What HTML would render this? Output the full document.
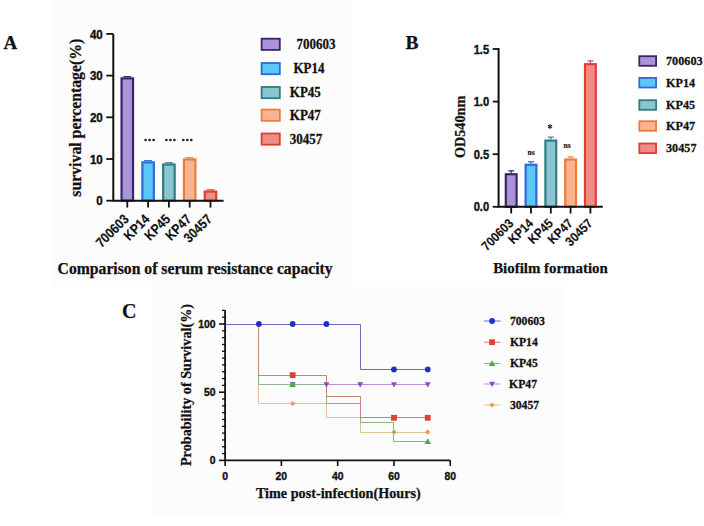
<!DOCTYPE html>
<html><head><meta charset="utf-8"><style>
html,body{margin:0;padding:0;background:#fff;width:704px;height:526px;overflow:hidden}
svg{display:block}
text{fill:#111}
</style></head><body>
<svg width="704" height="526" viewBox="0 0 704 526">
<rect x="0" y="0" width="704" height="526" fill="#ffffff"/>
<rect x="53" y="0" width="299" height="287" fill="#fcfcfc"/>

<rect x="152" y="287" width="414" height="230" fill="#fcfcfc"/>
<text x="3.4" y="48.5" font-family='"Liberation Serif", serif' font-weight="bold" font-size="19" text-anchor="start" stroke="#111" stroke-width="0.25" >A</text>
<rect x="121.55" y="78.37" width="11.50" height="122.33" fill="#ab93d9" stroke="#3a2568" stroke-width="2.2"/>
<line x1="123.30" y1="76.67" x2="131.30" y2="76.67" stroke="#3a2568" stroke-width="1.2"/>
<rect x="142.35" y="162.39" width="11.50" height="38.31" fill="#5cc6f6" stroke="#2f6ad6" stroke-width="2.2"/>
<line x1="144.10" y1="160.69" x2="152.10" y2="160.69" stroke="#2f6ad6" stroke-width="1.2"/>
<rect x="163.15" y="164.48" width="11.50" height="36.22" fill="#8ac6cf" stroke="#347a85" stroke-width="2.2"/>
<line x1="164.90" y1="162.78" x2="172.90" y2="162.78" stroke="#347a85" stroke-width="1.2"/>
<rect x="183.95" y="159.47" width="11.50" height="41.23" fill="#f7b493" stroke="#ee7b3c" stroke-width="2.2"/>
<line x1="185.70" y1="157.77" x2="193.70" y2="157.77" stroke="#ee7b3c" stroke-width="1.2"/>
<rect x="204.75" y="191.58" width="11.50" height="9.12" fill="#f08c86" stroke="#e03e30" stroke-width="2.2"/>
<line x1="206.50" y1="189.88" x2="214.50" y2="189.88" stroke="#e03e30" stroke-width="1.2"/>
<path d="M113.3,34 V200.7 H223.6" fill="none" stroke="#111" stroke-width="2"/>
<line x1="106.3" y1="200.70" x2="113.3" y2="200.70" stroke="#111" stroke-width="1.8"/>
<text x="0" y="0" font-family='"Liberation Sans", sans-serif' font-weight="bold" font-size="11.6" text-anchor="end" stroke="#111" stroke-width="0.35" transform="translate(102.8 205.40) scale(1 1.16)">0</text>
<line x1="106.3" y1="159.00" x2="113.3" y2="159.00" stroke="#111" stroke-width="1.8"/>
<text x="0" y="0" font-family='"Liberation Sans", sans-serif' font-weight="bold" font-size="11.6" text-anchor="end" stroke="#111" stroke-width="0.35" transform="translate(102.8 163.70) scale(1 1.16)">10</text>
<line x1="106.3" y1="117.30" x2="113.3" y2="117.30" stroke="#111" stroke-width="1.8"/>
<text x="0" y="0" font-family='"Liberation Sans", sans-serif' font-weight="bold" font-size="11.6" text-anchor="end" stroke="#111" stroke-width="0.35" transform="translate(102.8 122.00) scale(1 1.16)">20</text>
<line x1="106.3" y1="75.60" x2="113.3" y2="75.60" stroke="#111" stroke-width="1.8"/>
<text x="0" y="0" font-family='"Liberation Sans", sans-serif' font-weight="bold" font-size="11.6" text-anchor="end" stroke="#111" stroke-width="0.35" transform="translate(102.8 80.30) scale(1 1.16)">30</text>
<line x1="106.3" y1="33.90" x2="113.3" y2="33.90" stroke="#111" stroke-width="1.8"/>
<text x="0" y="0" font-family='"Liberation Sans", sans-serif' font-weight="bold" font-size="11.6" text-anchor="end" stroke="#111" stroke-width="0.35" transform="translate(102.8 38.60) scale(1 1.16)">40</text>
<line x1="127.30" y1="200.7" x2="127.30" y2="207.6" stroke="#111" stroke-width="1.8"/>
<text x="0" y="0" font-family='"Liberation Sans", sans-serif' font-weight="bold" font-size="12.0" text-anchor="end" stroke="#111" stroke-width="0.15" transform="translate(129.70 220.0) rotate(-45) scale(1 1.15)">700603</text>
<line x1="148.10" y1="200.7" x2="148.10" y2="207.6" stroke="#111" stroke-width="1.8"/>
<text x="0" y="0" font-family='"Liberation Sans", sans-serif' font-weight="bold" font-size="12.0" text-anchor="end" stroke="#111" stroke-width="0.15" transform="translate(150.50 220.0) rotate(-45) scale(1 1.15)">KP14</text>
<line x1="168.90" y1="200.7" x2="168.90" y2="207.6" stroke="#111" stroke-width="1.8"/>
<text x="0" y="0" font-family='"Liberation Sans", sans-serif' font-weight="bold" font-size="12.0" text-anchor="end" stroke="#111" stroke-width="0.15" transform="translate(171.30 220.0) rotate(-45) scale(1 1.15)">KP45</text>
<line x1="189.70" y1="200.7" x2="189.70" y2="207.6" stroke="#111" stroke-width="1.8"/>
<text x="0" y="0" font-family='"Liberation Sans", sans-serif' font-weight="bold" font-size="12.0" text-anchor="end" stroke="#111" stroke-width="0.15" transform="translate(192.10 220.0) rotate(-45) scale(1 1.15)">KP47</text>
<line x1="210.50" y1="200.7" x2="210.50" y2="207.6" stroke="#111" stroke-width="1.8"/>
<text x="0" y="0" font-family='"Liberation Sans", sans-serif' font-weight="bold" font-size="12.0" text-anchor="end" stroke="#111" stroke-width="0.15" transform="translate(212.90 220.0) rotate(-45) scale(1 1.15)">30457</text>
<circle cx="145.60" cy="140.0" r="1.35" fill="#222"/>
<circle cx="149.60" cy="140.0" r="1.35" fill="#222"/>
<circle cx="153.60" cy="140.0" r="1.35" fill="#222"/>
<circle cx="166.40" cy="140.0" r="1.35" fill="#222"/>
<circle cx="170.40" cy="140.0" r="1.35" fill="#222"/>
<circle cx="174.40" cy="140.0" r="1.35" fill="#222"/>
<circle cx="183.30" cy="140.0" r="1.35" fill="#222"/>
<circle cx="187.30" cy="140.0" r="1.35" fill="#222"/>
<circle cx="191.30" cy="140.0" r="1.35" fill="#222"/>
<text x="0" y="0" font-family='"Liberation Serif", serif' font-weight="bold" font-size="15.8" text-anchor="middle" stroke="#111" stroke-width="0.25" transform="translate(81 117.7) rotate(-90)">survival percentage(%)</text>
<text x="57.6" y="274.2" font-family='"Liberation Serif", serif' font-weight="bold" font-size="15.7" text-anchor="start" stroke="#111" stroke-width="0.25" >Comparison of serum resistance capacity</text>
<rect x="261.6" y="38.70" width="18.2" height="11.2" fill="#ab93d9" stroke="#3a2568" stroke-width="1.8"/>
<text x="0" y="0" font-family='"Liberation Serif", serif' font-weight="bold" font-size="13" text-anchor="start" stroke="#111" stroke-width="0.25" transform="translate(296.60 48.90) scale(1 1.06)">700603</text>
<rect x="261.6" y="63.00" width="18.2" height="11.2" fill="#5cc6f6" stroke="#2f6ad6" stroke-width="1.8"/>
<text x="0" y="0" font-family='"Liberation Serif", serif' font-weight="bold" font-size="13" text-anchor="start" stroke="#111" stroke-width="0.25" transform="translate(293.40 73.20) scale(1 1.06)">KP14</text>
<rect x="261.6" y="87.00" width="18.2" height="11.2" fill="#8ac6cf" stroke="#347a85" stroke-width="1.8"/>
<text x="0" y="0" font-family='"Liberation Serif", serif' font-weight="bold" font-size="13" text-anchor="start" stroke="#111" stroke-width="0.25" transform="translate(289.80 97.20) scale(1 1.06)">KP45</text>
<rect x="261.6" y="109.60" width="18.2" height="11.2" fill="#f7b493" stroke="#ee7b3c" stroke-width="1.8"/>
<text x="0" y="0" font-family='"Liberation Serif", serif' font-weight="bold" font-size="13" text-anchor="start" stroke="#111" stroke-width="0.25" transform="translate(289.80 119.80) scale(1 1.06)">KP47</text>
<rect x="261.6" y="133.50" width="18.2" height="11.2" fill="#f08c86" stroke="#e03e30" stroke-width="1.8"/>
<text x="0" y="0" font-family='"Liberation Serif", serif' font-weight="bold" font-size="13" text-anchor="start" stroke="#111" stroke-width="0.25" transform="translate(289.80 143.70) scale(1 1.06)">30457</text>
<text x="405.6" y="48.8" font-family='"Liberation Serif", serif' font-weight="bold" font-size="19.5" text-anchor="start" stroke="#111" stroke-width="0.25" >B</text>
<line x1="511.20" y1="173.14" x2="511.20" y2="170.82" stroke="#3a2568" stroke-width="1.2"/>
<line x1="508.20" y1="170.82" x2="514.20" y2="170.82" stroke="#3a2568" stroke-width="1.2"/>
<rect x="505.80" y="174.24" width="10.80" height="32.56" fill="#ab93d9" stroke="#3a2568" stroke-width="2.2"/>
<line x1="531.00" y1="163.67" x2="531.00" y2="161.77" stroke="#2f6ad6" stroke-width="1.2"/>
<line x1="528.00" y1="161.77" x2="534.00" y2="161.77" stroke="#2f6ad6" stroke-width="1.2"/>
<rect x="525.60" y="164.77" width="10.80" height="42.03" fill="#5cc6f6" stroke="#2f6ad6" stroke-width="2.2"/>
<line x1="550.80" y1="139.47" x2="550.80" y2="137.16" stroke="#347a85" stroke-width="1.2"/>
<line x1="547.80" y1="137.16" x2="553.80" y2="137.16" stroke="#347a85" stroke-width="1.2"/>
<rect x="545.40" y="140.57" width="10.80" height="66.23" fill="#8ac6cf" stroke="#347a85" stroke-width="2.2"/>
<line x1="570.60" y1="158.41" x2="570.60" y2="156.94" stroke="#ee7b3c" stroke-width="1.2"/>
<line x1="567.60" y1="156.94" x2="573.60" y2="156.94" stroke="#ee7b3c" stroke-width="1.2"/>
<rect x="565.20" y="159.51" width="10.80" height="47.29" fill="#f7b493" stroke="#ee7b3c" stroke-width="2.2"/>
<line x1="590.40" y1="63.10" x2="590.40" y2="60.99" stroke="#e03e30" stroke-width="1.2"/>
<line x1="587.40" y1="60.99" x2="593.40" y2="60.99" stroke="#e03e30" stroke-width="1.2"/>
<rect x="585.00" y="64.20" width="10.80" height="142.60" fill="#f08c86" stroke="#e03e30" stroke-width="2.2"/>
<path d="M498.6,48 V206.8 H602.8" fill="none" stroke="#111" stroke-width="2"/>
<line x1="492.7" y1="206.80" x2="498.6" y2="206.80" stroke="#111" stroke-width="1.8"/>
<text x="0" y="0" font-family='"Liberation Sans", sans-serif' font-weight="bold" font-size="11.2" text-anchor="end" stroke="#111" stroke-width="0.35" transform="translate(489.2 211.40) scale(1 1.08)">0.0</text>
<line x1="492.7" y1="154.20" x2="498.6" y2="154.20" stroke="#111" stroke-width="1.8"/>
<text x="0" y="0" font-family='"Liberation Sans", sans-serif' font-weight="bold" font-size="11.2" text-anchor="end" stroke="#111" stroke-width="0.35" transform="translate(489.2 158.80) scale(1 1.08)">0.5</text>
<line x1="492.7" y1="101.60" x2="498.6" y2="101.60" stroke="#111" stroke-width="1.8"/>
<text x="0" y="0" font-family='"Liberation Sans", sans-serif' font-weight="bold" font-size="11.2" text-anchor="end" stroke="#111" stroke-width="0.35" transform="translate(489.2 106.20) scale(1 1.08)">1.0</text>
<line x1="492.7" y1="49.00" x2="498.6" y2="49.00" stroke="#111" stroke-width="1.8"/>
<text x="0" y="0" font-family='"Liberation Sans", sans-serif' font-weight="bold" font-size="11.2" text-anchor="end" stroke="#111" stroke-width="0.35" transform="translate(489.2 53.60) scale(1 1.08)">1.5</text>
<line x1="511.20" y1="206.8" x2="511.20" y2="213.5" stroke="#111" stroke-width="1.8"/>
<text x="0" y="0" font-family='"Liberation Sans", sans-serif' font-weight="bold" font-size="11.6" text-anchor="end" stroke="#111" stroke-width="0.12" transform="translate(514.20 224.2) rotate(-45) scale(1 1.12)">700603</text>
<line x1="531.00" y1="206.8" x2="531.00" y2="213.5" stroke="#111" stroke-width="1.8"/>
<text x="0" y="0" font-family='"Liberation Sans", sans-serif' font-weight="bold" font-size="11.6" text-anchor="end" stroke="#111" stroke-width="0.12" transform="translate(534.00 224.2) rotate(-45) scale(1 1.12)">KP14</text>
<line x1="550.80" y1="206.8" x2="550.80" y2="213.5" stroke="#111" stroke-width="1.8"/>
<text x="0" y="0" font-family='"Liberation Sans", sans-serif' font-weight="bold" font-size="11.6" text-anchor="end" stroke="#111" stroke-width="0.12" transform="translate(553.80 224.2) rotate(-45) scale(1 1.12)">KP45</text>
<line x1="570.60" y1="206.8" x2="570.60" y2="213.5" stroke="#111" stroke-width="1.8"/>
<text x="0" y="0" font-family='"Liberation Sans", sans-serif' font-weight="bold" font-size="11.6" text-anchor="end" stroke="#111" stroke-width="0.12" transform="translate(573.60 224.2) rotate(-45) scale(1 1.12)">KP47</text>
<line x1="590.40" y1="206.8" x2="590.40" y2="213.5" stroke="#111" stroke-width="1.8"/>
<text x="0" y="0" font-family='"Liberation Sans", sans-serif' font-weight="bold" font-size="11.6" text-anchor="end" stroke="#111" stroke-width="0.12" transform="translate(593.40 224.2) rotate(-45) scale(1 1.12)">30457</text>
<text x="531.2" y="155.0" font-family='"Liberation Serif", serif' font-weight="bold" font-size="7.6" text-anchor="middle" stroke="#111" stroke-width="0.15" >ns</text>
<g stroke="#1a1a1a" stroke-width="1.1"><line x1="550" y1="124.3" x2="550" y2="128.9"/><line x1="547.9" y1="125.3" x2="552.1" y2="127.9"/><line x1="552.1" y1="125.3" x2="547.9" y2="127.9"/></g>
<text x="567.0" y="147.6" font-family='"Liberation Serif", serif' font-weight="bold" font-size="7.6" text-anchor="middle" stroke="#111" stroke-width="0.15" >ns</text>
<text x="0" y="0" font-family='"Liberation Serif", serif' font-weight="bold" font-size="14.2" text-anchor="middle" stroke="#111" stroke-width="0.25" transform="translate(465.3 126.9) rotate(-90)">OD540nm</text>
<text x="493.2" y="272.7" font-family='"Liberation Serif", serif' font-weight="bold" font-size="14.9" text-anchor="start" stroke="#111" stroke-width="0.25" >Biofilm formation</text>
<rect x="639.3" y="56.20" width="16.8" height="9.6" fill="#ab93d9" stroke="#3a2568" stroke-width="1.8"/>
<text x="0" y="0" font-family='"Liberation Serif", serif' font-weight="bold" font-size="12.2" text-anchor="start" stroke="#111" stroke-width="0.25" transform="translate(666.0 64.90) scale(1 1.1)">700603</text>
<rect x="639.3" y="77.90" width="16.8" height="9.6" fill="#5cc6f6" stroke="#2f6ad6" stroke-width="1.8"/>
<text x="0" y="0" font-family='"Liberation Serif", serif' font-weight="bold" font-size="12.2" text-anchor="start" stroke="#111" stroke-width="0.25" transform="translate(666.0 86.60) scale(1 1.1)">KP14</text>
<rect x="639.3" y="100.20" width="16.8" height="9.6" fill="#8ac6cf" stroke="#347a85" stroke-width="1.8"/>
<text x="0" y="0" font-family='"Liberation Serif", serif' font-weight="bold" font-size="12.2" text-anchor="start" stroke="#111" stroke-width="0.25" transform="translate(666.0 108.90) scale(1 1.1)">KP45</text>
<rect x="639.3" y="121.20" width="16.8" height="9.6" fill="#f7b493" stroke="#ee7b3c" stroke-width="1.8"/>
<text x="0" y="0" font-family='"Liberation Serif", serif' font-weight="bold" font-size="12.2" text-anchor="start" stroke="#111" stroke-width="0.25" transform="translate(666.0 129.90) scale(1 1.1)">KP47</text>
<rect x="639.3" y="143.50" width="16.8" height="9.6" fill="#f08c86" stroke="#e03e30" stroke-width="1.8"/>
<text x="0" y="0" font-family='"Liberation Serif", serif' font-weight="bold" font-size="12.2" text-anchor="start" stroke="#111" stroke-width="0.25" transform="translate(666.0 152.20) scale(1 1.1)">30457</text>
<text x="122" y="318.4" font-family='"Liberation Serif", serif' font-weight="bold" font-size="20" text-anchor="start" stroke="#111" stroke-width="0.25" >C</text>
<path d="M225.1,310.36 V460.4 H450.27" fill="none" stroke="#111" stroke-width="1.8"/>
<line x1="219" y1="460.40" x2="225.1" y2="460.40" stroke="#111" stroke-width="1.6"/>
<line x1="222" y1="453.58" x2="225.1" y2="453.58" stroke="#111" stroke-width="1.3"/>
<line x1="222" y1="446.76" x2="225.1" y2="446.76" stroke="#111" stroke-width="1.3"/>
<line x1="222" y1="439.94" x2="225.1" y2="439.94" stroke="#111" stroke-width="1.3"/>
<line x1="222" y1="433.12" x2="225.1" y2="433.12" stroke="#111" stroke-width="1.3"/>
<line x1="222" y1="426.30" x2="225.1" y2="426.30" stroke="#111" stroke-width="1.3"/>
<line x1="222" y1="419.48" x2="225.1" y2="419.48" stroke="#111" stroke-width="1.3"/>
<line x1="222" y1="412.66" x2="225.1" y2="412.66" stroke="#111" stroke-width="1.3"/>
<line x1="222" y1="405.84" x2="225.1" y2="405.84" stroke="#111" stroke-width="1.3"/>
<line x1="222" y1="399.02" x2="225.1" y2="399.02" stroke="#111" stroke-width="1.3"/>
<line x1="219" y1="392.20" x2="225.1" y2="392.20" stroke="#111" stroke-width="1.6"/>
<line x1="222" y1="385.38" x2="225.1" y2="385.38" stroke="#111" stroke-width="1.3"/>
<line x1="222" y1="378.56" x2="225.1" y2="378.56" stroke="#111" stroke-width="1.3"/>
<line x1="222" y1="371.74" x2="225.1" y2="371.74" stroke="#111" stroke-width="1.3"/>
<line x1="222" y1="364.92" x2="225.1" y2="364.92" stroke="#111" stroke-width="1.3"/>
<line x1="222" y1="358.10" x2="225.1" y2="358.10" stroke="#111" stroke-width="1.3"/>
<line x1="222" y1="351.28" x2="225.1" y2="351.28" stroke="#111" stroke-width="1.3"/>
<line x1="222" y1="344.46" x2="225.1" y2="344.46" stroke="#111" stroke-width="1.3"/>
<line x1="222" y1="337.64" x2="225.1" y2="337.64" stroke="#111" stroke-width="1.3"/>
<line x1="222" y1="330.82" x2="225.1" y2="330.82" stroke="#111" stroke-width="1.3"/>
<line x1="219" y1="324.00" x2="225.1" y2="324.00" stroke="#111" stroke-width="1.6"/>
<line x1="222" y1="317.18" x2="225.1" y2="317.18" stroke="#111" stroke-width="1.3"/>
<line x1="222" y1="310.36" x2="225.1" y2="310.36" stroke="#111" stroke-width="1.3"/>
<text x="215.5" y="464.09999999999997" font-family='"Liberation Sans", sans-serif' font-weight="bold" font-size="10.4" text-anchor="end" stroke="#111" stroke-width="0.35" >0</text>
<text x="215.5" y="395.9" font-family='"Liberation Sans", sans-serif' font-weight="bold" font-size="10.4" text-anchor="end" stroke="#111" stroke-width="0.35" >50</text>
<text x="215.5" y="327.7" font-family='"Liberation Sans", sans-serif' font-weight="bold" font-size="10.4" text-anchor="end" stroke="#111" stroke-width="0.35" >100</text>
<line x1="225.10" y1="460.4" x2="225.10" y2="466" stroke="#111" stroke-width="1.6"/>
<text x="225.10" y="479.7" font-family='"Liberation Sans", sans-serif' font-weight="bold" font-size="10.4" text-anchor="middle" stroke="#111" stroke-width="0.35" >0</text>
<line x1="281.39" y1="460.4" x2="281.39" y2="466" stroke="#111" stroke-width="1.6"/>
<text x="281.39" y="479.7" font-family='"Liberation Sans", sans-serif' font-weight="bold" font-size="10.4" text-anchor="middle" stroke="#111" stroke-width="0.35" >20</text>
<line x1="337.68" y1="460.4" x2="337.68" y2="466" stroke="#111" stroke-width="1.6"/>
<text x="337.68" y="479.7" font-family='"Liberation Sans", sans-serif' font-weight="bold" font-size="10.4" text-anchor="middle" stroke="#111" stroke-width="0.35" >40</text>
<line x1="393.98" y1="460.4" x2="393.98" y2="466" stroke="#111" stroke-width="1.6"/>
<text x="393.98" y="479.7" font-family='"Liberation Sans", sans-serif' font-weight="bold" font-size="10.4" text-anchor="middle" stroke="#111" stroke-width="0.35" >60</text>
<line x1="450.27" y1="460.4" x2="450.27" y2="466" stroke="#111" stroke-width="1.6"/>
<text x="450.27" y="479.7" font-family='"Liberation Sans", sans-serif' font-weight="bold" font-size="10.4" text-anchor="middle" stroke="#111" stroke-width="0.35" >80</text>
<text x="255.9" y="498.4" font-family='"Liberation Serif", serif' font-weight="bold" font-size="14.2" text-anchor="start" stroke="#111" stroke-width="0.25" >Time post-infection(Hours)</text>
<text x="0" y="0" font-family='"Liberation Serif", serif' font-weight="bold" font-size="14.2" text-anchor="middle" stroke="#111" stroke-width="0.25" transform="translate(191.4 385) rotate(-90)">Probability of Survival(%)</text>
<path d="M258.5,324.5 H258.5 V384.5 H427.5 V384.5 H427.5" fill="none" stroke="#bf8fd8" stroke-width="1.0"/>
<path d="M258.5,324.5 H258.5 V403.5 H326.5 V417.5 H360.5 V432.5 H427.5 V432.5 H427.5" fill="none" stroke="#dfc48e" stroke-width="1.0"/>
<path d="M258.5,324.5 H258.5 V384.5 H326.5 V403.5 H360.5 V422.5 H393.5 V441.5 H427.5 V441.5 H427.5" fill="none" stroke="#8db38b" stroke-width="1.0"/>
<path d="M258.5,324.5 H258.5 V375.5 H326.5 V396.5 H360.5 V417.5 H427.5 V417.5 H427.5" fill="none" stroke="#c98279" stroke-width="1.0"/>
<path d="M225.5,324.5 H360.5 V369.5 H427.5 V369.5 H427.5" fill="none" stroke="#6a6cbc" stroke-width="1.0"/>
<path d="M292.65,387.56 L295.65,382.31 L289.65,382.31Z" fill="#9448bf"/>
<path d="M326.43,387.56 L329.43,382.31 L323.43,382.31Z" fill="#9448bf"/>
<path d="M360.20,387.56 L363.20,382.31 L357.20,382.31Z" fill="#9448bf"/>
<path d="M393.98,387.56 L396.98,382.31 L390.98,382.31Z" fill="#9448bf"/>
<path d="M427.75,387.56 L430.75,382.31 L424.75,382.31Z" fill="#9448bf"/>
<path d="M292.65,400.92 L295.25,403.52 L292.65,406.12 L290.05,403.52Z" fill="#e0a050"/>
<path d="M393.98,429.43 L396.58,432.03 L393.98,434.63 L391.38,432.03Z" fill="#c4a544"/>
<path d="M427.75,429.43 L430.35,432.03 L427.75,434.63 L425.15,432.03Z" fill="#e0a050"/>
<path d="M292.65,381.26 L295.95,387.04 L289.35,387.04Z" fill="#52a64a"/>
<path d="M427.75,438.14 L431.05,443.92 L424.45,443.92Z" fill="#52a64a"/>
<rect x="289.75" y="372.25" width="5.80" height="5.80" fill="#e0402e"/>
<rect x="391.08" y="414.88" width="5.80" height="5.80" fill="#e0402e"/>
<rect x="424.85" y="414.88" width="5.80" height="5.80" fill="#e0402e"/>
<circle cx="258.88" cy="324.00" r="2.90" fill="#1f2fc8"/>
<circle cx="292.65" cy="324.00" r="2.90" fill="#1f2fc8"/>
<circle cx="326.43" cy="324.00" r="2.90" fill="#1f2fc8"/>
<circle cx="393.98" cy="369.42" r="2.90" fill="#1f2fc8"/>
<circle cx="427.75" cy="369.42" r="2.90" fill="#1f2fc8"/>
<line x1="484.0" y1="321" x2="500.6" y2="321" stroke="#6a6cbc" stroke-width="1.0"/>
<circle cx="492.10" cy="321.00" r="2.90" fill="#1f2fc8"/>
<text x="0" y="0" font-family='"Liberation Serif", serif' font-weight="bold" font-size="11.7" text-anchor="start" stroke="#111" stroke-width="0.25" transform="translate(509.90 324.80) scale(1 1.08)">700603</text>
<line x1="484.0" y1="342.2" x2="500.6" y2="342.2" stroke="#c98279" stroke-width="1.0"/>
<rect x="489.20" y="339.30" width="5.80" height="5.80" fill="#e0402e"/>
<text x="0" y="0" font-family='"Liberation Serif", serif' font-weight="bold" font-size="11.7" text-anchor="start" stroke="#111" stroke-width="0.25" transform="translate(509.90 346.00) scale(1 1.08)">KP14</text>
<line x1="484.0" y1="363.5" x2="500.6" y2="363.5" stroke="#8db38b" stroke-width="1.0"/>
<path d="M492.10,360.20 L495.40,365.98 L488.80,365.98Z" fill="#52a64a"/>
<text x="0" y="0" font-family='"Liberation Serif", serif' font-weight="bold" font-size="11.7" text-anchor="start" stroke="#111" stroke-width="0.25" transform="translate(509.90 367.30) scale(1 1.08)">KP45</text>
<line x1="484.0" y1="384" x2="500.6" y2="384" stroke="#bf8fd8" stroke-width="1.0"/>
<path d="M492.10,387.00 L495.10,381.75 L489.10,381.75Z" fill="#9448bf"/>
<text x="0" y="0" font-family='"Liberation Serif", serif' font-weight="bold" font-size="11.7" text-anchor="start" stroke="#111" stroke-width="0.25" transform="translate(509.10 387.80) scale(1 1.08)">KP47</text>
<line x1="484.0" y1="405" x2="500.6" y2="405" stroke="#dfc48e" stroke-width="1.0"/>
<path d="M492.10,402.40 L494.70,405.00 L492.10,407.60 L489.50,405.00Z" fill="#e0a050"/>
<text x="0" y="0" font-family='"Liberation Serif", serif' font-weight="bold" font-size="11.7" text-anchor="start" stroke="#111" stroke-width="0.25" transform="translate(509.90 408.80) scale(1 1.08)">30457</text>
</svg>
</body></html>
